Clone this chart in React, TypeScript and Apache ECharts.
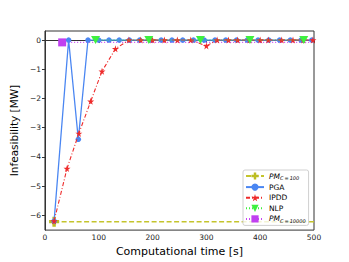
import React, { useEffect, useRef } from "react";
import * as echarts from "echarts";

const xTicks = [0, 100, 200, 300, 400, 500];
const yTicks = [-6, -5, -4, -3, -2, -1, 0];

const pm100X = [17, 500];
const pm100Y = [-6.22, -6.22];

const pgaX = [17, 44, 62, 80, 100, 119, 138, 157, 176, 196, 216, 236, 256, 276, 296, 316, 336, 356, 376, 396, 416, 436, 456, 476, 496];
const pgaY = [-6.2, 0, -3.4, 0, 0, 0, 0, 0, 0, 0, 0, 0, 0, 0, 0, 0, 0, 0, 0, 0, 0, 0, 0, 0, 0];

const ipddX = [17, 41, 63, 85, 106, 131, 156, 178, 200, 222, 246, 271, 300, 320, 341, 358, 380, 400, 415, 440, 461, 480, 498];
const ipddY = [-6.2, -4.4, -3.2, -2.1, -1.07, -0.3, 0, 0, 0, 0, 0, 0, -0.2, 0, 0, 0, 0, 0, 0, 0, 0, 0, 0];

const nlpX = [94, 193, 289, 381, 481];
const nlpY = [0, 0, 0, 0, 0];

const pm10000X = [32, 500];
const pm10000Y = [-0.08, -0.08];

const seriesNames = ["PM C=100", "PGA", "IPDD", "NLP", "PM C=10000"];

const STAR = "path://M50,0 L61,35 L98,35 L68,57 L79,91 L50,70 L21,91 L32,57 L2,35 L39,35 Z";
const PLUS = "path://M33,0 H67 V33 H100 V67 H67 V100 H33 V67 H0 V33 H33 Z";
const TRI_DOWN = "path://M0,0 L100,0 L50,90 Z";

const zip = (xs: number[], ys: number[]) => xs.map((x, i) => [x, ys[i]]);

const FONT = "DejaVu Sans";

export default function App() {
  const ref = useRef<HTMLDivElement>(null);
  useEffect(() => {
    if (!ref.current) return;
    const chart = echarts.init(ref.current, null, { renderer: "svg" });
    const fmtMinus = (v: number) => (v < 0 ? "\u2212" + Math.abs(v) : String(v));
    chart.setOption({
      animation: false,
      backgroundColor: "#ffffff",
      textStyle: { fontFamily: FONT },
      grid: {
        left: 43,
        top: 31,
        right: 35,
        bottom: 29,
        show: true,
        borderColor: "#333",
        borderWidth: 1,
        backgroundColor: "transparent",
      },
      xAxis: {
        type: "value",
        min: 0,
        max: 500,
        interval: 100,
        name: "Computational time [s]",
        nameLocation: "middle",
        nameGap: 13,
        nameTextStyle: { fontSize: 11, color: "#000", fontFamily: FONT },
        axisLine: { show: true, lineStyle: { color: "#333", width: 1 } },
        axisTick: { show: true, inside: false, length: 3, lineStyle: { color: "#333" } },
        axisLabel: { fontSize: 7.5, color: "#222", margin: 3, fontFamily: FONT },
        splitLine: { show: false },
      },
      yAxis: {
        type: "value",
        min: -6.51,
        max: 0.31,
        name: "Infeasibility [MW]",
        nameLocation: "middle",
        nameGap: 25,
        nameRotate: 90,
        nameTextStyle: { fontSize: 10.5, color: "#000", fontFamily: FONT },
        axisLine: { show: true, lineStyle: { color: "#333", width: 1 } },
        axisTick: { show: true, length: 3, customValues: yTicks, lineStyle: { color: "#333" } },
        axisLabel: {
          fontSize: 7.5,
          color: "#222",
          margin: 4,
          fontFamily: FONT,
          customValues: yTicks,
          formatter: (v: number) => fmtMinus(v),
        },
        splitLine: { show: false },
      },
      legend: {
        orient: "vertical",
        left: 243,
        top: 170,
        padding: [2, 3, 2, 2],
        itemGap: 2.6,
        itemWidth: 18,
        itemHeight: 9,
        backgroundColor: "rgba(255,255,255,0.8)",
        borderColor: "#d0d0d0",
        borderWidth: 1,
        borderRadius: 2,
        data: seriesNames,
        textStyle: {
          fontSize: 7.5,
          color: "#000",
          fontFamily: FONT,
          rich: {
            i: { fontSize: 7.5, fontStyle: "italic", fontFamily: FONT, color: "#000" },
            s: { fontSize: 5, fontStyle: "italic", fontFamily: FONT, color: "#000", padding: [4, 0, 0, 0] },
          },
        },
        formatter: (name: string) => {
          if (name === "PM C=100") return "{i|PM}{s|C\u2009=\u2009100}";
          if (name === "PM C=10000") return "{i|PM}{s|C\u2009=\u200910000}";
          return name;
        },
      },
      series: [
        {
          name: seriesNames[0],
          type: "line",
          data: zip(pm100X, pm100Y).map((d, i) => (i === 0 ? { value: d } : { value: d, symbol: "none" })),
          symbol: PLUS,
          symbolSize: 10,
          z: 2,
          lineStyle: { color: "#c4c42c", width: 1.5, type: [5, 2.5] },
          itemStyle: { color: "#bcbd22" },
        },
        {
          name: seriesNames[1],
          type: "line",
          data: zip(pgaX, pgaY),
          symbol: "circle",
          symbolSize: 5.5,
          z: 3,
          lineStyle: { color: "#4a86f2", width: 1.3 },
          itemStyle: { color: "#4a86f2" },
        },
        {
          name: seriesNames[2],
          type: "line",
          data: zip(ipddX, ipddY),
          symbol: STAR,
          symbolSize: 7,
          z: 4,
          lineStyle: { color: "#ee2a2a", width: 1.1, type: [4, 2, 1, 2] },
          itemStyle: { color: "#ee2a2a" },
        },
        {
          name: seriesNames[3],
          type: "line",
          data: zip(nlpX, nlpY),
          symbol: TRI_DOWN,
          symbolSize: [9, 8],
          z: 5,
          lineStyle: { color: "#3ef03e", width: 1.1, type: [1, 2] },
          itemStyle: { color: "#3ef03e" },
        },
        {
          name: seriesNames[4],
          type: "line",
          data: zip(pm10000X, pm10000Y).map((d, i) => (i === 0 ? { value: d } : { value: d, symbol: "none" })),
          symbol: "rect",
          symbolSize: 8,
          z: 1,
          lineStyle: { color: "#c846f5", width: 1.3, type: [1, 2] },
          itemStyle: { color: "#c040f0" },
        },
      ],
    });
    return () => chart.dispose();
  }, []);
  return <div ref={ref} style={{ width: 349, height: 262, position: "absolute", left: 0, top: 0 }} />;
}
